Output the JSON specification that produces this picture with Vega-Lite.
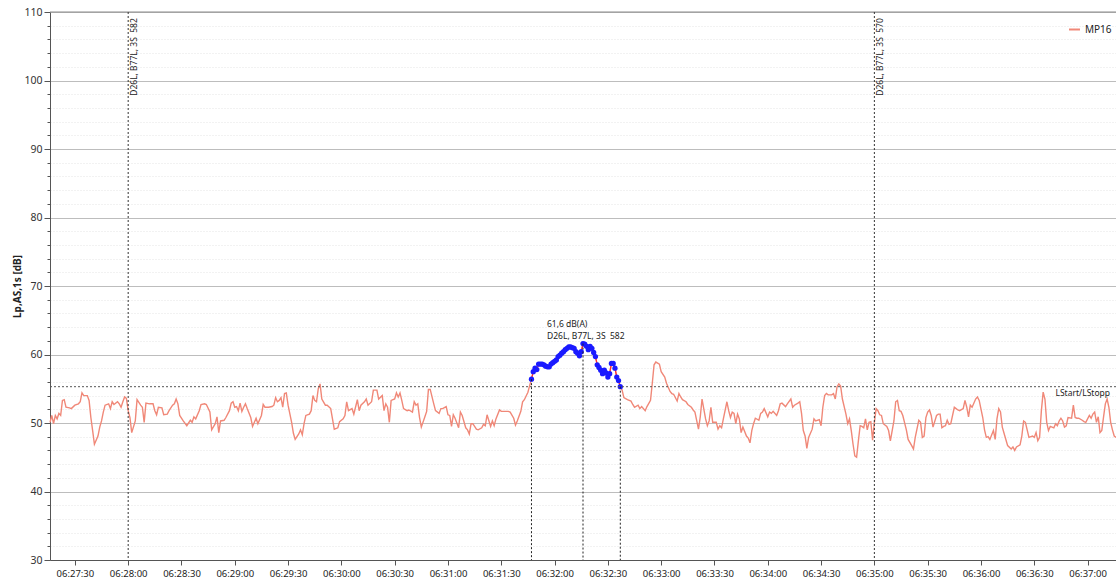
{
  "$schema": "https://vega.github.io/schema/vega-lite/v6.json",
  "width": 1066,
  "height": 548,
  "autosize": {"type": "none"},
  "padding": {"left": 50, "top": 12, "right": 0, "bottom": 21},
  "background": "white",
  "config": {
    "font": "Noto Sans",
    "view": {"stroke": null}
  },
  "datasets": {
    "mp16": [
      {"t":"2024-01-01T06:27:16","v":50.1},{"t":"2024-01-01T06:27:17","v":51.1},{"t":"2024-01-01T06:27:18","v":49.9},{"t":"2024-01-01T06:27:19","v":51.1},{"t":"2024-01-01T06:27:20","v":50.6},{"t":"2024-01-01T06:27:21","v":51.4},{"t":"2024-01-01T06:27:22","v":51.1},{"t":"2024-01-01T06:27:23","v":53.3},{"t":"2024-01-01T06:27:24","v":53.4},{"t":"2024-01-01T06:27:25","v":52.3},{"t":"2024-01-01T06:27:27","v":52.2},{"t":"2024-01-01T06:27:28","v":52.1},{"t":"2024-01-01T06:27:30","v":52.6},{"t":"2024-01-01T06:27:32","v":52.8},{"t":"2024-01-01T06:27:33","v":53.1},{"t":"2024-01-01T06:27:34","v":54.4},{"t":"2024-01-01T06:27:35","v":54.0},{"t":"2024-01-01T06:27:37","v":54.0},{"t":"2024-01-01T06:27:38","v":53.3},{"t":"2024-01-01T06:27:39","v":50.8},{"t":"2024-01-01T06:27:40","v":48.9},{"t":"2024-01-01T06:27:41","v":46.9},{"t":"2024-01-01T06:27:43","v":48.1},{"t":"2024-01-01T06:27:44","v":49.4},{"t":"2024-01-01T06:27:45","v":50.3},{"t":"2024-01-01T06:27:46","v":51.6},{"t":"2024-01-01T06:27:47","v":52.6},{"t":"2024-01-01T06:27:49","v":52.8},{"t":"2024-01-01T06:27:50","v":52.1},{"t":"2024-01-01T06:27:51","v":53.1},{"t":"2024-01-01T06:27:52","v":52.7},{"t":"2024-01-01T06:27:54","v":53.1},{"t":"2024-01-01T06:27:55","v":52.8},{"t":"2024-01-01T06:27:56","v":52.3},{"t":"2024-01-01T06:27:57","v":53.1},{"t":"2024-01-01T06:27:58","v":53.8},{"t":"2024-01-01T06:27:59","v":53.6},
      {"t":"2024-01-01T06:28:00","v":51.8},{"t":"2024-01-01T06:28:01","v":50.8},{"t":"2024-01-01T06:28:02","v":48.6},{"t":"2024-01-01T06:28:04","v":50.3},{"t":"2024-01-01T06:28:05","v":53.4},{"t":"2024-01-01T06:28:07","v":52.6},{"t":"2024-01-01T06:28:08","v":52.3},{"t":"2024-01-01T06:28:09","v":50.1},{"t":"2024-01-01T06:28:10","v":52.9},{"t":"2024-01-01T06:28:12","v":52.8},{"t":"2024-01-01T06:28:14","v":52.8},{"t":"2024-01-01T06:28:15","v":51.8},{"t":"2024-01-01T06:28:16","v":51.2},{"t":"2024-01-01T06:28:17","v":52.3},{"t":"2024-01-01T06:28:19","v":52.2},{"t":"2024-01-01T06:28:20","v":51.2},{"t":"2024-01-01T06:28:22","v":51.3},{"t":"2024-01-01T06:28:23","v":51.8},{"t":"2024-01-01T06:28:25","v":52.6},{"t":"2024-01-01T06:28:26","v":52.8},{"t":"2024-01-01T06:28:27","v":53.5},{"t":"2024-01-01T06:28:28","v":52.8},{"t":"2024-01-01T06:28:29","v":51.1},{"t":"2024-01-01T06:28:31","v":50.3},{"t":"2024-01-01T06:28:33","v":49.6},{"t":"2024-01-01T06:28:35","v":50.4},{"t":"2024-01-01T06:28:36","v":50.1},{"t":"2024-01-01T06:28:37","v":50.9},{"t":"2024-01-01T06:28:38","v":50.6},{"t":"2024-01-01T06:28:40","v":51.8},{"t":"2024-01-01T06:28:41","v":52.7},{"t":"2024-01-01T06:28:43","v":52.8},{"t":"2024-01-01T06:28:44","v":52.7},{"t":"2024-01-01T06:28:46","v":51.6},{"t":"2024-01-01T06:28:47","v":49.0},{"t":"2024-01-01T06:28:49","v":49.9},{"t":"2024-01-01T06:28:50","v":50.9},{"t":"2024-01-01T06:28:51","v":48.6},{"t":"2024-01-01T06:28:52","v":50.3},{"t":"2024-01-01T06:28:54","v":50.4},{"t":"2024-01-01T06:28:55","v":50.8},{"t":"2024-01-01T06:28:57","v":51.8},{"t":"2024-01-01T06:28:58","v":52.9},{"t":"2024-01-01T06:28:59","v":53.1},
      {"t":"2024-01-01T06:29:00","v":52.3},{"t":"2024-01-01T06:29:01","v":52.4},{"t":"2024-01-01T06:29:02","v":51.8},{"t":"2024-01-01T06:29:03","v":52.9},{"t":"2024-01-01T06:29:04","v":51.7},{"t":"2024-01-01T06:29:05","v":52.3},{"t":"2024-01-01T06:29:06","v":52.8},{"t":"2024-01-01T06:29:07","v":52.1},{"t":"2024-01-01T06:29:09","v":50.8},{"t":"2024-01-01T06:29:10","v":49.5},{"t":"2024-01-01T06:29:12","v":50.7},{"t":"2024-01-01T06:29:13","v":49.9},{"t":"2024-01-01T06:29:15","v":51.1},{"t":"2024-01-01T06:29:16","v":52.7},{"t":"2024-01-01T06:29:17","v":52.3},{"t":"2024-01-01T06:29:19","v":52.3},{"t":"2024-01-01T06:29:21","v":52.4},{"t":"2024-01-01T06:29:22","v":52.6},{"t":"2024-01-01T06:29:23","v":53.7},{"t":"2024-01-01T06:29:24","v":53.1},{"t":"2024-01-01T06:29:25","v":53.3},{"t":"2024-01-01T06:29:26","v":53.7},{"t":"2024-01-01T06:29:27","v":52.3},{"t":"2024-01-01T06:29:28","v":54.3},{"t":"2024-01-01T06:29:29","v":54.4},{"t":"2024-01-01T06:29:30","v":52.6},{"t":"2024-01-01T06:29:32","v":50.1},{"t":"2024-01-01T06:29:33","v":48.5},{"t":"2024-01-01T06:29:34","v":47.6},{"t":"2024-01-01T06:29:36","v":48.4},{"t":"2024-01-01T06:29:37","v":49.0},{"t":"2024-01-01T06:29:38","v":48.3},{"t":"2024-01-01T06:29:39","v":49.9},{"t":"2024-01-01T06:29:40","v":51.1},{"t":"2024-01-01T06:29:42","v":51.3},{"t":"2024-01-01T06:29:43","v":51.8},{"t":"2024-01-01T06:29:44","v":54.0},{"t":"2024-01-01T06:29:45","v":53.3},{"t":"2024-01-01T06:29:46","v":53.1},{"t":"2024-01-01T06:29:47","v":55.0},{"t":"2024-01-01T06:29:48","v":55.7},{"t":"2024-01-01T06:29:49","v":53.5},{"t":"2024-01-01T06:29:51","v":52.6},{"t":"2024-01-01T06:29:52","v":52.6},{"t":"2024-01-01T06:29:54","v":52.1},{"t":"2024-01-01T06:29:55","v":50.6},{"t":"2024-01-01T06:29:56","v":49.1},{"t":"2024-01-01T06:29:58","v":49.3},{"t":"2024-01-01T06:29:59","v":50.2},
      {"t":"2024-01-01T06:30:01","v":50.6},{"t":"2024-01-01T06:30:02","v":51.1},{"t":"2024-01-01T06:30:03","v":53.1},{"t":"2024-01-01T06:30:04","v":51.8},{"t":"2024-01-01T06:30:06","v":52.1},{"t":"2024-01-01T06:30:07","v":51.3},{"t":"2024-01-01T06:30:09","v":53.4},{"t":"2024-01-01T06:30:10","v":51.8},{"t":"2024-01-01T06:30:11","v":52.6},{"t":"2024-01-01T06:30:13","v":53.1},{"t":"2024-01-01T06:30:14","v":53.5},{"t":"2024-01-01T06:30:15","v":52.6},{"t":"2024-01-01T06:30:17","v":53.1},{"t":"2024-01-01T06:30:18","v":54.8},{"t":"2024-01-01T06:30:20","v":54.8},{"t":"2024-01-01T06:30:21","v":53.5},{"t":"2024-01-01T06:30:23","v":54.0},{"t":"2024-01-01T06:30:24","v":51.8},{"t":"2024-01-01T06:30:25","v":52.8},{"t":"2024-01-01T06:30:26","v":52.3},{"t":"2024-01-01T06:30:27","v":50.1},{"t":"2024-01-01T06:30:28","v":53.3},{"t":"2024-01-01T06:30:30","v":53.5},{"t":"2024-01-01T06:30:31","v":54.4},{"t":"2024-01-01T06:30:32","v":53.8},{"t":"2024-01-01T06:30:33","v":54.4},{"t":"2024-01-01T06:30:34","v":53.3},{"t":"2024-01-01T06:30:35","v":52.1},{"t":"2024-01-01T06:30:37","v":51.8},{"t":"2024-01-01T06:30:38","v":51.9},{"t":"2024-01-01T06:30:40","v":51.6},{"t":"2024-01-01T06:30:41","v":53.1},{"t":"2024-01-01T06:30:42","v":52.6},{"t":"2024-01-01T06:30:43","v":52.8},{"t":"2024-01-01T06:30:44","v":50.8},{"t":"2024-01-01T06:30:45","v":49.4},{"t":"2024-01-01T06:30:47","v":50.9},{"t":"2024-01-01T06:30:48","v":51.7},{"t":"2024-01-01T06:30:49","v":54.9},{"t":"2024-01-01T06:30:50","v":54.9},{"t":"2024-01-01T06:30:52","v":52.8},{"t":"2024-01-01T06:30:53","v":51.8},{"t":"2024-01-01T06:30:55","v":51.4},{"t":"2024-01-01T06:30:56","v":52.1},{"t":"2024-01-01T06:30:57","v":52.1},{"t":"2024-01-01T06:30:59","v":52.4},
      {"t":"2024-01-01T06:31:00","v":51.2},{"t":"2024-01-01T06:31:01","v":51.1},{"t":"2024-01-01T06:31:02","v":49.5},{"t":"2024-01-01T06:31:03","v":51.2},{"t":"2024-01-01T06:31:04","v":50.7},{"t":"2024-01-01T06:31:06","v":49.3},{"t":"2024-01-01T06:31:07","v":51.6},{"t":"2024-01-01T06:31:08","v":51.1},{"t":"2024-01-01T06:31:10","v":49.3},{"t":"2024-01-01T06:31:11","v":49.0},{"t":"2024-01-01T06:31:12","v":48.4},{"t":"2024-01-01T06:31:13","v":49.9},{"t":"2024-01-01T06:31:14","v":49.9},{"t":"2024-01-01T06:31:16","v":49.1},{"t":"2024-01-01T06:31:17","v":49.0},{"t":"2024-01-01T06:31:19","v":49.3},{"t":"2024-01-01T06:31:20","v":49.8},{"t":"2024-01-01T06:31:21","v":49.6},{"t":"2024-01-01T06:31:22","v":51.2},{"t":"2024-01-01T06:31:24","v":49.5},{"t":"2024-01-01T06:31:25","v":50.3},{"t":"2024-01-01T06:31:26","v":49.6},{"t":"2024-01-01T06:31:27","v":50.6},{"t":"2024-01-01T06:31:29","v":51.9},{"t":"2024-01-01T06:31:30","v":51.7},{"t":"2024-01-01T06:31:32","v":51.7},{"t":"2024-01-01T06:31:34","v":51.7},{"t":"2024-01-01T06:31:35","v":51.6},{"t":"2024-01-01T06:31:37","v":50.7},{"t":"2024-01-01T06:31:38","v":49.7},{"t":"2024-01-01T06:31:39","v":50.3},{"t":"2024-01-01T06:31:41","v":51.7},{"t":"2024-01-01T06:31:42","v":53.1},{"t":"2024-01-01T06:31:43","v":53.4},{"t":"2024-01-01T06:31:45","v":54.5},{"t":"2024-01-01T06:31:46","v":55.5},
      {"t":"2024-01-01T06:31:47","v":56.4},{"t":"2024-01-01T06:31:48","v":57.5},{"t":"2024-01-01T06:31:49","v":58.0},{"t":"2024-01-01T06:31:50","v":57.8},{"t":"2024-01-01T06:31:51","v":58.6},{"t":"2024-01-01T06:31:52","v":58.6},{"t":"2024-01-01T06:31:53","v":58.6},{"t":"2024-01-01T06:31:54","v":58.5},{"t":"2024-01-01T06:31:55","v":58.3},{"t":"2024-01-01T06:31:56","v":58.2},{"t":"2024-01-01T06:31:57","v":58.2},{"t":"2024-01-01T06:31:58","v":58.6},{"t":"2024-01-01T06:31:59","v":58.8},{"t":"2024-01-01T06:32:00","v":59.0},{"t":"2024-01-01T06:32:01","v":59.2},{"t":"2024-01-01T06:32:02","v":59.7},{"t":"2024-01-01T06:32:03","v":59.9},{"t":"2024-01-01T06:32:04","v":60.2},{"t":"2024-01-01T06:32:05","v":60.4},{"t":"2024-01-01T06:32:06","v":60.7},{"t":"2024-01-01T06:32:07","v":60.9},{"t":"2024-01-01T06:32:08","v":61.1},{"t":"2024-01-01T06:32:09","v":61.1},{"t":"2024-01-01T06:32:10","v":61.0},{"t":"2024-01-01T06:32:11","v":60.9},{"t":"2024-01-01T06:32:12","v":60.4},{"t":"2024-01-01T06:32:13","v":60.2},{"t":"2024-01-01T06:32:14","v":59.8},{"t":"2024-01-01T06:32:15","v":60.4},{"t":"2024-01-01T06:32:16","v":61.6},{"t":"2024-01-01T06:32:17","v":61.5},{"t":"2024-01-01T06:32:18","v":61.2},{"t":"2024-01-01T06:32:19","v":60.7},{"t":"2024-01-01T06:32:20","v":61.2},{"t":"2024-01-01T06:32:21","v":60.9},{"t":"2024-01-01T06:32:22","v":60.3},{"t":"2024-01-01T06:32:23","v":59.7},{"t":"2024-01-01T06:32:24","v":58.5},{"t":"2024-01-01T06:32:25","v":58.1},{"t":"2024-01-01T06:32:26","v":57.7},{"t":"2024-01-01T06:32:27","v":57.2},{"t":"2024-01-01T06:32:28","v":57.7},{"t":"2024-01-01T06:32:29","v":57.3},{"t":"2024-01-01T06:32:30","v":56.7},{"t":"2024-01-01T06:32:31","v":57.2},{"t":"2024-01-01T06:32:32","v":58.7},{"t":"2024-01-01T06:32:33","v":58.7},{"t":"2024-01-01T06:32:34","v":58.0},{"t":"2024-01-01T06:32:35","v":56.7},{"t":"2024-01-01T06:32:36","v":56.2},{"t":"2024-01-01T06:32:37","v":55.3},
      {"t":"2024-01-01T06:32:38","v":54.8},{"t":"2024-01-01T06:32:39","v":53.7},{"t":"2024-01-01T06:32:41","v":53.4},{"t":"2024-01-01T06:32:43","v":53.2},{"t":"2024-01-01T06:32:44","v":52.7},{"t":"2024-01-01T06:32:45","v":52.3},{"t":"2024-01-01T06:32:47","v":52.6},{"t":"2024-01-01T06:32:48","v":52.1},{"t":"2024-01-01T06:32:49","v":52.4},{"t":"2024-01-01T06:32:51","v":51.8},{"t":"2024-01-01T06:32:52","v":52.4},{"t":"2024-01-01T06:32:54","v":53.3},{"t":"2024-01-01T06:32:55","v":55.8},{"t":"2024-01-01T06:32:56","v":58.5},{"t":"2024-01-01T06:32:57","v":58.9},{"t":"2024-01-01T06:32:59","v":58.6},
      {"t":"2024-01-01T06:33:00","v":57.5},{"t":"2024-01-01T06:33:02","v":56.7},{"t":"2024-01-01T06:33:03","v":55.8},{"t":"2024-01-01T06:33:05","v":54.6},{"t":"2024-01-01T06:33:06","v":54.3},{"t":"2024-01-01T06:33:07","v":54.2},{"t":"2024-01-01T06:33:09","v":53.2},{"t":"2024-01-01T06:33:10","v":54.3},{"t":"2024-01-01T06:33:11","v":53.8},{"t":"2024-01-01T06:33:12","v":53.4},{"t":"2024-01-01T06:33:14","v":53.1},{"t":"2024-01-01T06:33:15","v":52.7},{"t":"2024-01-01T06:33:17","v":52.3},{"t":"2024-01-01T06:33:18","v":51.9},{"t":"2024-01-01T06:33:19","v":51.6},{"t":"2024-01-01T06:33:21","v":49.1},{"t":"2024-01-01T06:33:22","v":50.9},{"t":"2024-01-01T06:33:23","v":53.5},{"t":"2024-01-01T06:33:25","v":50.6},{"t":"2024-01-01T06:33:26","v":49.6},{"t":"2024-01-01T06:33:27","v":50.3},{"t":"2024-01-01T06:33:28","v":52.3},{"t":"2024-01-01T06:33:29","v":50.1},{"t":"2024-01-01T06:33:31","v":50.1},{"t":"2024-01-01T06:33:32","v":49.1},{"t":"2024-01-01T06:33:33","v":49.6},{"t":"2024-01-01T06:33:34","v":49.3},{"t":"2024-01-01T06:33:35","v":50.6},{"t":"2024-01-01T06:33:37","v":53.1},{"t":"2024-01-01T06:33:38","v":51.8},{"t":"2024-01-01T06:33:39","v":50.8},{"t":"2024-01-01T06:33:40","v":51.6},{"t":"2024-01-01T06:33:41","v":51.4},{"t":"2024-01-01T06:33:42","v":49.9},{"t":"2024-01-01T06:33:43","v":51.3},{"t":"2024-01-01T06:33:44","v":50.6},{"t":"2024-01-01T06:33:45","v":48.6},{"t":"2024-01-01T06:33:46","v":49.4},{"t":"2024-01-01T06:33:48","v":48.1},{"t":"2024-01-01T06:33:49","v":47.8},{"t":"2024-01-01T06:33:50","v":47.1},{"t":"2024-01-01T06:33:51","v":48.9},{"t":"2024-01-01T06:33:52","v":49.9},{"t":"2024-01-01T06:33:53","v":50.7},{"t":"2024-01-01T06:33:55","v":50.4},{"t":"2024-01-01T06:33:56","v":51.4},{"t":"2024-01-01T06:33:57","v":51.6},{"t":"2024-01-01T06:33:58","v":52.1},
      {"t":"2024-01-01T06:34:00","v":50.9},{"t":"2024-01-01T06:34:01","v":51.6},{"t":"2024-01-01T06:34:02","v":51.4},{"t":"2024-01-01T06:34:03","v":51.7},{"t":"2024-01-01T06:34:05","v":51.1},{"t":"2024-01-01T06:34:06","v":51.8},{"t":"2024-01-01T06:34:07","v":52.8},{"t":"2024-01-01T06:34:08","v":52.9},{"t":"2024-01-01T06:34:10","v":52.4},{"t":"2024-01-01T06:34:11","v":52.8},{"t":"2024-01-01T06:34:13","v":53.5},{"t":"2024-01-01T06:34:14","v":52.3},{"t":"2024-01-01T06:34:15","v":52.6},{"t":"2024-01-01T06:34:17","v":52.9},{"t":"2024-01-01T06:34:18","v":53.1},{"t":"2024-01-01T06:34:19","v":51.4},{"t":"2024-01-01T06:34:20","v":48.9},{"t":"2024-01-01T06:34:21","v":48.1},{"t":"2024-01-01T06:34:22","v":46.3},{"t":"2024-01-01T06:34:23","v":47.9},{"t":"2024-01-01T06:34:25","v":49.1},{"t":"2024-01-01T06:34:26","v":50.6},{"t":"2024-01-01T06:34:27","v":50.3},{"t":"2024-01-01T06:34:29","v":50.5},{"t":"2024-01-01T06:34:30","v":49.6},{"t":"2024-01-01T06:34:31","v":52.3},{"t":"2024-01-01T06:34:32","v":54.0},{"t":"2024-01-01T06:34:33","v":54.3},{"t":"2024-01-01T06:34:34","v":54.1},{"t":"2024-01-01T06:34:36","v":54.1},{"t":"2024-01-01T06:34:37","v":54.3},{"t":"2024-01-01T06:34:38","v":53.5},{"t":"2024-01-01T06:34:39","v":55.3},{"t":"2024-01-01T06:34:40","v":55.7},{"t":"2024-01-01T06:34:41","v":55.4},{"t":"2024-01-01T06:34:42","v":53.5},{"t":"2024-01-01T06:34:44","v":51.3},{"t":"2024-01-01T06:34:45","v":49.9},{"t":"2024-01-01T06:34:46","v":50.6},{"t":"2024-01-01T06:34:47","v":48.9},{"t":"2024-01-01T06:34:48","v":46.9},{"t":"2024-01-01T06:34:49","v":45.2},{"t":"2024-01-01T06:34:50","v":45.0},{"t":"2024-01-01T06:34:51","v":47.4},{"t":"2024-01-01T06:34:52","v":49.6},{"t":"2024-01-01T06:34:53","v":49.5},{"t":"2024-01-01T06:34:54","v":49.3},{"t":"2024-01-01T06:34:55","v":50.6},{"t":"2024-01-01T06:34:56","v":49.0},{"t":"2024-01-01T06:34:57","v":50.1},{"t":"2024-01-01T06:34:58","v":50.2},{"t":"2024-01-01T06:34:59","v":47.5},
      {"t":"2024-01-01T06:35:00","v":50.1},{"t":"2024-01-01T06:35:01","v":52.1},{"t":"2024-01-01T06:35:02","v":51.8},{"t":"2024-01-01T06:35:03","v":51.2},{"t":"2024-01-01T06:35:04","v":51.1},{"t":"2024-01-01T06:35:05","v":49.9},{"t":"2024-01-01T06:35:07","v":49.5},{"t":"2024-01-01T06:35:08","v":48.9},{"t":"2024-01-01T06:35:09","v":47.4},{"t":"2024-01-01T06:35:11","v":50.3},{"t":"2024-01-01T06:35:12","v":53.1},{"t":"2024-01-01T06:35:13","v":53.3},{"t":"2024-01-01T06:35:14","v":51.8},{"t":"2024-01-01T06:35:15","v":51.7},{"t":"2024-01-01T06:35:16","v":51.1},{"t":"2024-01-01T06:35:18","v":49.0},{"t":"2024-01-01T06:35:19","v":47.6},{"t":"2024-01-01T06:35:21","v":46.7},{"t":"2024-01-01T06:35:22","v":46.2},{"t":"2024-01-01T06:35:23","v":47.9},{"t":"2024-01-01T06:35:25","v":50.4},{"t":"2024-01-01T06:35:26","v":50.1},{"t":"2024-01-01T06:35:27","v":47.9},{"t":"2024-01-01T06:35:28","v":48.1},{"t":"2024-01-01T06:35:29","v":50.8},{"t":"2024-01-01T06:35:30","v":51.6},{"t":"2024-01-01T06:35:31","v":51.9},{"t":"2024-01-01T06:35:32","v":51.1},{"t":"2024-01-01T06:35:33","v":49.4},{"t":"2024-01-01T06:35:35","v":51.1},{"t":"2024-01-01T06:35:36","v":51.3},{"t":"2024-01-01T06:35:37","v":51.3},{"t":"2024-01-01T06:35:38","v":49.3},{"t":"2024-01-01T06:35:39","v":49.5},{"t":"2024-01-01T06:35:40","v":49.6},{"t":"2024-01-01T06:35:41","v":50.4},{"t":"2024-01-01T06:35:42","v":49.8},{"t":"2024-01-01T06:35:43","v":49.9},{"t":"2024-01-01T06:35:45","v":52.3},{"t":"2024-01-01T06:35:46","v":52.1},{"t":"2024-01-01T06:35:47","v":51.9},{"t":"2024-01-01T06:35:48","v":51.8},{"t":"2024-01-01T06:35:50","v":52.1},{"t":"2024-01-01T06:35:51","v":53.3},{"t":"2024-01-01T06:35:52","v":52.3},{"t":"2024-01-01T06:35:53","v":50.9},{"t":"2024-01-01T06:35:54","v":52.6},{"t":"2024-01-01T06:35:55","v":52.3},{"t":"2024-01-01T06:35:57","v":53.5},{"t":"2024-01-01T06:35:58","v":53.8},{"t":"2024-01-01T06:35:59","v":53.3},
      {"t":"2024-01-01T06:36:01","v":50.8},{"t":"2024-01-01T06:36:02","v":49.0},{"t":"2024-01-01T06:36:03","v":47.9},{"t":"2024-01-01T06:36:04","v":48.0},{"t":"2024-01-01T06:36:05","v":47.6},{"t":"2024-01-01T06:36:07","v":48.9},{"t":"2024-01-01T06:36:08","v":47.6},{"t":"2024-01-01T06:36:09","v":50.6},{"t":"2024-01-01T06:36:10","v":52.1},{"t":"2024-01-01T06:36:11","v":51.6},{"t":"2024-01-01T06:36:12","v":49.4},{"t":"2024-01-01T06:36:14","v":47.6},{"t":"2024-01-01T06:36:15","v":46.7},{"t":"2024-01-01T06:36:17","v":46.2},{"t":"2024-01-01T06:36:18","v":46.5},{"t":"2024-01-01T06:36:19","v":46.0},{"t":"2024-01-01T06:36:20","v":46.5},{"t":"2024-01-01T06:36:22","v":46.8},{"t":"2024-01-01T06:36:23","v":48.1},{"t":"2024-01-01T06:36:24","v":50.3},{"t":"2024-01-01T06:36:25","v":50.1},{"t":"2024-01-01T06:36:26","v":49.0},{"t":"2024-01-01T06:36:27","v":47.9},{"t":"2024-01-01T06:36:29","v":48.1},{"t":"2024-01-01T06:36:30","v":47.9},{"t":"2024-01-01T06:36:31","v":48.6},{"t":"2024-01-01T06:36:32","v":47.4},{"t":"2024-01-01T06:36:33","v":47.9},{"t":"2024-01-01T06:36:34","v":51.8},{"t":"2024-01-01T06:36:35","v":54.5},{"t":"2024-01-01T06:36:36","v":53.5},{"t":"2024-01-01T06:36:37","v":50.1},{"t":"2024-01-01T06:36:38","v":48.9},{"t":"2024-01-01T06:36:39","v":49.5},{"t":"2024-01-01T06:36:41","v":49.3},{"t":"2024-01-01T06:36:42","v":49.9},{"t":"2024-01-01T06:36:43","v":49.6},{"t":"2024-01-01T06:36:44","v":50.3},{"t":"2024-01-01T06:36:45","v":50.7},{"t":"2024-01-01T06:36:46","v":50.3},{"t":"2024-01-01T06:36:47","v":49.4},{"t":"2024-01-01T06:36:48","v":49.6},{"t":"2024-01-01T06:36:49","v":50.8},{"t":"2024-01-01T06:36:51","v":50.7},{"t":"2024-01-01T06:36:52","v":52.6},{"t":"2024-01-01T06:36:53","v":50.8},{"t":"2024-01-01T06:36:54","v":50.7},{"t":"2024-01-01T06:36:55","v":50.7},{"t":"2024-01-01T06:36:57","v":50.4},{"t":"2024-01-01T06:36:58","v":50.2},{"t":"2024-01-01T06:36:59","v":50.1},
      {"t":"2024-01-01T06:37:01","v":51.1},{"t":"2024-01-01T06:37:02","v":50.7},{"t":"2024-01-01T06:37:03","v":51.3},{"t":"2024-01-01T06:37:04","v":51.6},{"t":"2024-01-01T06:37:05","v":50.1},{"t":"2024-01-01T06:37:06","v":50.9},{"t":"2024-01-01T06:37:07","v":48.6},{"t":"2024-01-01T06:37:08","v":48.9},{"t":"2024-01-01T06:37:09","v":50.9},{"t":"2024-01-01T06:37:10","v":52.8},{"t":"2024-01-01T06:37:11","v":53.5},{"t":"2024-01-01T06:37:12","v":52.3},{"t":"2024-01-01T06:37:13","v":50.1},{"t":"2024-01-01T06:37:14","v":49.0},{"t":"2024-01-01T06:37:15","v":48.1},{"t":"2024-01-01T06:37:16","v":47.9}
    ],
    "markers": [
      {"t": "2024-01-01T06:28:00", "label": "D26L, B77L, 3S\u00a0\u00a0582", "top": 109.1},
      {"t": "2024-01-01T06:35:00", "label": "D26L, B77L, 3S\u00a0\u00a0570", "top": 109.1}
    ],
    "drops": [
      {"t": "2024-01-01T06:31:47", "v": 56.4},
      {"t": "2024-01-01T06:32:16", "v": 61.6},
      {"t": "2024-01-01T06:32:37", "v": 55.3}
    ],
    "peak": [
      {"t": "2024-01-01T06:32:16", "v": 61.6, "label": "61,6 dB(A)|D26L, B77L, 3S\u00a0\u00a0582"}
    ],
    "threshold": [
      {"t": "2024-01-01T06:37:16", "v": 55.3, "label": "LStart/LStopp"}
    ]
  },
  "layer": [
    {
      "data": {"name": "mp16"},
      "mark": {"type": "line", "strokeWidth": 1.4},
      "encoding": {
        "x": {
          "field": "t", "type": "temporal",
          "scale": {"nice": false},
          "axis": {
            "title": null, "format": "%H:%M:%S",
            "tickCount": 20,
            "grid": false, "domainColor": "#555555", "tickColor": "#555555",
            "tickSize": 5, "labelFontSize": 9.5, "labelColor": "#222222",
            "labelPadding": 3
          }
        },
        "y": {
          "field": "v", "type": "quantitative",
          "scale": {"domain": [30, 110], "nice": false, "zero": false},
          "axis": {
            "title": "Lp,AS,1s [dB]",
            "titleFontSize": 10, "titleFontWeight": "bold", "titleColor": "#222222",
            "titlePadding": 1,
            "tickCount": 100,
            "values": [30,32,34,36,38,40,42,44,46,48,50,52,54,56,58,60,62,64,66,68,70,72,74,76,78,80,82,84,86,88,90,92,94,96,98,100,102,104,106,108,110],
            "labelExpr": "datum.value % 10 === 0 ? datum.label : ''",
            "labelFontSize": 10.5, "labelColor": "#333333", "labelPadding": 2,
            "domainColor": "#555555", "tickColor": "#555555",
            "tickSize": 6,
            "tickDash": {"condition": {"test": "datum.value % 10 === 0", "value": []}, "value": [3, 10]},
            "grid": true,
            "gridColor": {"condition": {"test": "datum.value % 10 === 0", "value": "#bdbdbd"}, "value": "#e4e4e4"},
            "gridDash": {"condition": {"test": "datum.value % 10 === 0", "value": []}, "value": [1, 2]}
          }
        },
        "color": {
          "datum": "MP16",
          "type": "nominal",
          "scale": {"range": ["#F08878"]},
          "legend": {
            "title": null, "orient": "none", "legendX": 1018, "legendY": 11,
            "symbolType": "stroke", "symbolStrokeWidth": 2, "symbolSize": 120,
            "labelFontSize": 10, "labelColor": "#222222"
          }
        }
      }
    },
    {
      "data": {"name": "mp16"},
      "transform": [{"filter": {"field": "t", "range": [
        {"year": 2024, "month": 1, "date": 1, "hours": 6, "minutes": 31, "seconds": 47},
        {"year": 2024, "month": 1, "date": 1, "hours": 6, "minutes": 32, "seconds": 37}
      ]}}],
      "encoding": {
        "x": {"field": "t", "type": "temporal"},
        "y": {"field": "v", "type": "quantitative"}
      },
      "layer": [
        {"mark": {"type": "line", "color": "#ff2a2a", "strokeWidth": 1.2}},
        {"mark": {"type": "point", "filled": true, "color": "#1a1aff", "size": 28, "opacity": 1}}
      ]
    },
    {
      "data": {"values": [{"level": 110}]},
      "mark": {"type": "rule", "color": "#8a8a8a", "strokeWidth": 1},
      "encoding": {"y": {"field": "level", "type": "quantitative"}}
    },
    {
      "data": {"name": "markers"},
      "mark": {"type": "rule", "color": "#333333", "strokeWidth": 1, "strokeDash": [2, 2]},
      "encoding": {"x": {"field": "t", "type": "temporal"}}
    },
    {
      "data": {"name": "drops"},
      "mark": {"type": "rule", "color": "#222222", "strokeWidth": 1, "strokeDash": [2, 2]},
      "encoding": {
        "x": {"field": "t", "type": "temporal"},
        "y": {"field": "v", "type": "quantitative"},
        "y2": {"datum": 30}
      }
    },
    {
      "data": {"name": "threshold"},
      "mark": {"type": "rule", "color": "#555555", "strokeWidth": 1, "strokeDash": [2, 2]},
      "encoding": {"y": {"field": "v", "type": "quantitative"}}
    },
    {
      "data": {"name": "threshold"},
      "mark": {"type": "text", "align": "right", "baseline": "top", "dx": -6, "dy": 2, "fontSize": 8.5, "color": "#222222"},
      "encoding": {
        "x": {"field": "t", "type": "temporal"},
        "y": {"field": "v", "type": "quantitative"},
        "text": {"field": "label"}
      }
    },
    {
      "data": {"name": "markers"},
      "mark": {"type": "text", "angle": 270, "align": "right", "baseline": "top", "dy": 2, "fontSize": 8.5, "color": "#222222"},
      "encoding": {
        "x": {"field": "t", "type": "temporal"},
        "y": {"field": "top", "type": "quantitative"},
        "text": {"field": "label"}
      }
    },
    {
      "data": {"name": "peak"},
      "mark": {"type": "text", "align": "left", "baseline": "bottom", "dx": -36, "dy": -15, "fontSize": 8.5, "lineHeight": 12, "lineBreak": "|", "color": "#222222"},
      "encoding": {
        "x": {"field": "t", "type": "temporal"},
        "y": {"field": "v", "type": "quantitative"},
        "text": {"field": "label"}
      }
    }
  ]
}
